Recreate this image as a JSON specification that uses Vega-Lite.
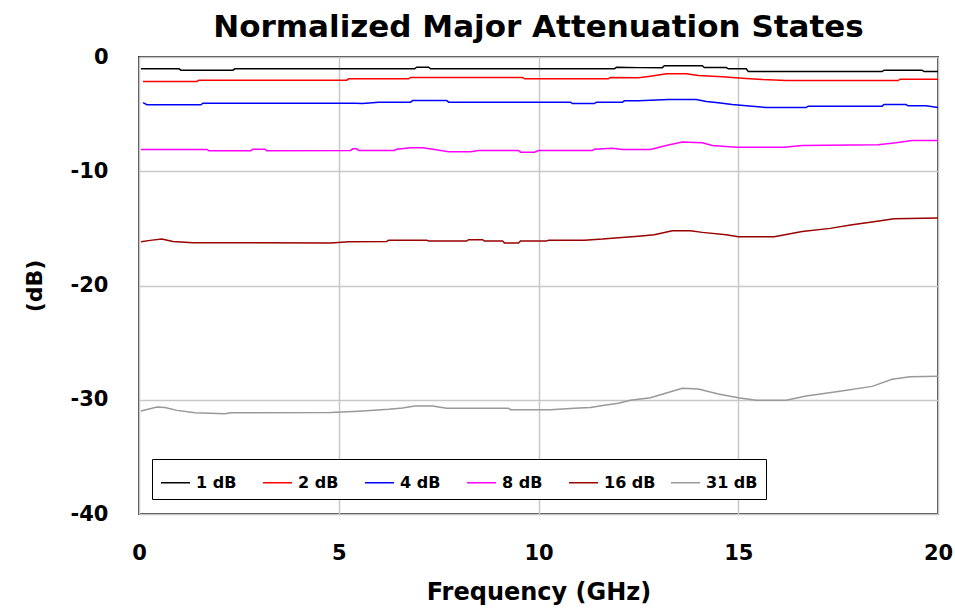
{
  "$schema": "https://vega.github.io/schema/vega-lite/v6.json",
  "width": 799,
  "height": 457,
  "autosize": {"type": "none"},
  "padding": {"left": 139, "top": 57, "right": 17, "bottom": 95},
  "background": "white",
  "title": {"text": "Normalized Major Attenuation States", "font": "DejaVu Sans", "fontSize": 31, "fontWeight": "bold", "color": "#000000", "anchor": "middle", "offset": 2},
  "config": {
    "view": {"stroke": "#404040", "strokeWidth": 2},
    "axis": {"labelFont": "DejaVu Sans", "labelFontWeight": "bold", "labelFontSize": 21, "labelColor": "#000000", "titleFont": "DejaVu Sans", "titleFontWeight": "bold", "titleFontSize": 24, "titleColor": "#000000", "gridColor": "#c8c8c8", "gridWidth": 1.5, "gridOpacity": 1, "domain": false, "ticks": false, "labelFlush": false, "labelExpr": "toString(datum.value)"}
  },
  "data": {"values": [
    {"s":"1 dB","f":0.05,"v":-1.03},{"s":"1 dB","f":1.0,"v":-1.03},{"s":"1 dB","f":1.05,"v":-1.15},{"s":"1 dB","f":2.35,"v":-1.15},{"s":"1 dB","f":2.4,"v":-1.03},{"s":"1 dB","f":6.9,"v":-1.03},{"s":"1 dB","f":6.95,"v":-0.89},{"s":"1 dB","f":7.25,"v":-0.89},{"s":"1 dB","f":7.3,"v":-1.03},{"s":"1 dB","f":11.9,"v":-1.03},{"s":"1 dB","f":11.95,"v":-0.9},{"s":"1 dB","f":12.5,"v":-0.93},{"s":"1 dB","f":13.1,"v":-0.93},{"s":"1 dB","f":13.15,"v":-0.77},{"s":"1 dB","f":14.1,"v":-0.77},{"s":"1 dB","f":14.15,"v":-0.92},{"s":"1 dB","f":14.7,"v":-0.92},{"s":"1 dB","f":14.75,"v":-1.03},{"s":"1 dB","f":15.2,"v":-1.03},{"s":"1 dB","f":15.25,"v":-1.27},{"s":"1 dB","f":18.6,"v":-1.27},{"s":"1 dB","f":18.65,"v":-1.15},{"s":"1 dB","f":19.6,"v":-1.15},{"s":"1 dB","f":19.65,"v":-1.27},{"s":"1 dB","f":20,"v":-1.27},
    {"s":"2 dB","f":0.1,"v":-2.14},{"s":"2 dB","f":1.45,"v":-2.14},{"s":"2 dB","f":1.5,"v":-2.03},{"s":"2 dB","f":5.2,"v":-2.03},{"s":"2 dB","f":5.25,"v":-1.91},{"s":"2 dB","f":6.75,"v":-1.91},{"s":"2 dB","f":6.8,"v":-1.79},{"s":"2 dB","f":9.6,"v":-1.79},{"s":"2 dB","f":9.65,"v":-1.91},{"s":"2 dB","f":11.75,"v":-1.91},{"s":"2 dB","f":11.8,"v":-1.79},{"s":"2 dB","f":12.5,"v":-1.82},{"s":"2 dB","f":12.8,"v":-1.68},{"s":"2 dB","f":13.2,"v":-1.47},{"s":"2 dB","f":13.7,"v":-1.47},{"s":"2 dB","f":14.0,"v":-1.62},{"s":"2 dB","f":14.6,"v":-1.73},{"s":"2 dB","f":15.1,"v":-1.85},{"s":"2 dB","f":15.6,"v":-1.97},{"s":"2 dB","f":16.2,"v":-2.06},{"s":"2 dB","f":19.0,"v":-2.06},{"s":"2 dB","f":19.05,"v":-1.94},{"s":"2 dB","f":20,"v":-1.94},
    {"s":"4 dB","f":0.1,"v":-4.0},{"s":"4 dB","f":0.2,"v":-4.18},{"s":"4 dB","f":1.55,"v":-4.18},{"s":"4 dB","f":1.6,"v":-4.04},{"s":"4 dB","f":5.4,"v":-4.04},{"s":"4 dB","f":5.6,"v":-4.07},{"s":"4 dB","f":6.0,"v":-3.95},{"s":"4 dB","f":6.8,"v":-3.95},{"s":"4 dB","f":6.85,"v":-3.8},{"s":"4 dB","f":7.7,"v":-3.8},{"s":"4 dB","f":7.75,"v":-3.95},{"s":"4 dB","f":10.8,"v":-3.95},{"s":"4 dB","f":10.85,"v":-4.07},{"s":"4 dB","f":11.4,"v":-4.07},{"s":"4 dB","f":11.45,"v":-3.95},{"s":"4 dB","f":12.1,"v":-3.95},{"s":"4 dB","f":12.15,"v":-3.83},{"s":"4 dB","f":12.5,"v":-3.83},{"s":"4 dB","f":13.25,"v":-3.72},{"s":"4 dB","f":13.95,"v":-3.72},{"s":"4 dB","f":14.2,"v":-3.89},{"s":"4 dB","f":14.5,"v":-4.0},{"s":"4 dB","f":14.85,"v":-4.16},{"s":"4 dB","f":15.2,"v":-4.27},{"s":"4 dB","f":15.7,"v":-4.42},{"s":"4 dB","f":16.7,"v":-4.42},{"s":"4 dB","f":16.75,"v":-4.3},{"s":"4 dB","f":18.6,"v":-4.3},{"s":"4 dB","f":18.65,"v":-4.16},{"s":"4 dB","f":19.2,"v":-4.16},{"s":"4 dB","f":19.25,"v":-4.27},{"s":"4 dB","f":19.7,"v":-4.27},{"s":"4 dB","f":20,"v":-4.42},
    {"s":"8 dB","f":0.05,"v":-8.09},{"s":"8 dB","f":1.7,"v":-8.09},{"s":"8 dB","f":1.75,"v":-8.2},{"s":"8 dB","f":2.8,"v":-8.2},{"s":"8 dB","f":2.85,"v":-8.07},{"s":"8 dB","f":3.15,"v":-8.07},{"s":"8 dB","f":3.2,"v":-8.2},{"s":"8 dB","f":5.3,"v":-8.18},{"s":"8 dB","f":5.35,"v":-8.04},{"s":"8 dB","f":5.45,"v":-8.04},{"s":"8 dB","f":5.5,"v":-8.18},{"s":"8 dB","f":6.4,"v":-8.18},{"s":"8 dB","f":6.45,"v":-8.07},{"s":"8 dB","f":6.8,"v":-7.95},{"s":"8 dB","f":7.1,"v":-7.95},{"s":"8 dB","f":7.4,"v":-8.09},{"s":"8 dB","f":7.75,"v":-8.3},{"s":"8 dB","f":8.3,"v":-8.3},{"s":"8 dB","f":8.5,"v":-8.18},{"s":"8 dB","f":9.5,"v":-8.18},{"s":"8 dB","f":9.55,"v":-8.33},{"s":"8 dB","f":9.9,"v":-8.33},{"s":"8 dB","f":10.0,"v":-8.18},{"s":"8 dB","f":11.35,"v":-8.18},{"s":"8 dB","f":11.4,"v":-8.07},{"s":"8 dB","f":11.85,"v":-7.98},{"s":"8 dB","f":12.1,"v":-8.09},{"s":"8 dB","f":12.8,"v":-8.09},{"s":"8 dB","f":13.25,"v":-7.7},{"s":"8 dB","f":13.6,"v":-7.45},{"s":"8 dB","f":14.1,"v":-7.5},{"s":"8 dB","f":14.35,"v":-7.74},{"s":"8 dB","f":14.95,"v":-7.89},{"s":"8 dB","f":16.15,"v":-7.89},{"s":"8 dB","f":16.6,"v":-7.74},{"s":"8 dB","f":18.5,"v":-7.68},{"s":"8 dB","f":18.95,"v":-7.5},{"s":"8 dB","f":19.35,"v":-7.3},{"s":"8 dB","f":20,"v":-7.3},
    {"s":"16 dB","f":0.05,"v":-16.17},{"s":"16 dB","f":0.28,"v":-16.05},{"s":"16 dB","f":0.57,"v":-15.94},{"s":"16 dB","f":0.85,"v":-16.14},{"s":"16 dB","f":1.35,"v":-16.26},{"s":"16 dB","f":4.8,"v":-16.27},{"s":"16 dB","f":5.25,"v":-16.16},{"s":"16 dB","f":6.2,"v":-16.14},{"s":"16 dB","f":6.25,"v":-16.03},{"s":"16 dB","f":7.2,"v":-16.03},{"s":"16 dB","f":7.25,"v":-16.11},{"s":"16 dB","f":8.2,"v":-16.11},{"s":"16 dB","f":8.25,"v":-15.99},{"s":"16 dB","f":8.6,"v":-15.99},{"s":"16 dB","f":8.65,"v":-16.11},{"s":"16 dB","f":9.1,"v":-16.11},{"s":"16 dB","f":9.15,"v":-16.29},{"s":"16 dB","f":9.5,"v":-16.29},{"s":"16 dB","f":9.55,"v":-16.11},{"s":"16 dB","f":10.2,"v":-16.11},{"s":"16 dB","f":10.25,"v":-16.03},{"s":"16 dB","f":11.15,"v":-16.03},{"s":"16 dB","f":11.6,"v":-15.94},{"s":"16 dB","f":12.0,"v":-15.82},{"s":"16 dB","f":12.5,"v":-15.68},{"s":"16 dB","f":12.9,"v":-15.56},{"s":"16 dB","f":13.35,"v":-15.2},{"s":"16 dB","f":13.8,"v":-15.2},{"s":"16 dB","f":14.1,"v":-15.35},{"s":"16 dB","f":14.7,"v":-15.56},{"s":"16 dB","f":15.0,"v":-15.73},{"s":"16 dB","f":15.9,"v":-15.73},{"s":"16 dB","f":16.6,"v":-15.27},{"s":"16 dB","f":17.3,"v":-15.0},{"s":"16 dB","f":17.85,"v":-14.68},{"s":"16 dB","f":18.35,"v":-14.45},{"s":"16 dB","f":18.9,"v":-14.16},{"s":"16 dB","f":20,"v":-14.1},
    {"s":"31 dB","f":0.05,"v":-30.99},{"s":"31 dB","f":0.45,"v":-30.64},{"s":"31 dB","f":0.65,"v":-30.67},{"s":"31 dB","f":0.95,"v":-30.93},{"s":"31 dB","f":1.4,"v":-31.13},{"s":"31 dB","f":2.15,"v":-31.22},{"s":"31 dB","f":2.3,"v":-31.13},{"s":"31 dB","f":4.8,"v":-31.12},{"s":"31 dB","f":5.5,"v":-31.0},{"s":"31 dB","f":6.25,"v":-30.84},{"s":"31 dB","f":6.6,"v":-30.73},{"s":"31 dB","f":6.9,"v":-30.55},{"s":"31 dB","f":7.35,"v":-30.55},{"s":"31 dB","f":7.7,"v":-30.75},{"s":"31 dB","f":9.25,"v":-30.75},{"s":"31 dB","f":9.3,"v":-30.87},{"s":"31 dB","f":10.3,"v":-30.87},{"s":"31 dB","f":10.9,"v":-30.75},{"s":"31 dB","f":11.3,"v":-30.67},{"s":"31 dB","f":11.65,"v":-30.49},{"s":"31 dB","f":12.0,"v":-30.31},{"s":"31 dB","f":12.3,"v":-30.05},{"s":"31 dB","f":12.8,"v":-29.82},{"s":"31 dB","f":13.6,"v":-29.0},{"s":"31 dB","f":14.0,"v":-29.06},{"s":"31 dB","f":14.5,"v":-29.5},{"s":"31 dB","f":15.0,"v":-29.82},{"s":"31 dB","f":15.45,"v":-30.05},{"s":"31 dB","f":16.2,"v":-30.05},{"s":"31 dB","f":16.7,"v":-29.68},{"s":"31 dB","f":17.5,"v":-29.27},{"s":"31 dB","f":18.35,"v":-28.83},{"s":"31 dB","f":18.85,"v":-28.2},{"s":"31 dB","f":19.3,"v":-27.98},{"s":"31 dB","f":20,"v":-27.95}
  ]},
  "mark": {"type": "line", "strokeWidth": 1.5, "clip": true},
  "encoding": {
    "x": {"field": "f", "type": "quantitative", "scale": {"domain": [0, 20], "nice": false, "zero": false}, "axis": {"values": [0, 5, 10, 15, 20], "title": "Frequency (GHz)", "labelPadding": 28, "titlePadding": 17, "labelBaseline": "top"}},
    "y": {"field": "v", "type": "quantitative", "scale": {"domain": [-40, 0], "nice": false}, "axis": {"values": [0, -10, -20, -30, -40], "title": "(dB)", "labelPadding": 31, "titlePadding": 24, "titleFontSize": 22}},
    "color": {"field": "s", "type": "nominal", "sort": null,
      "scale": {"domain": ["1 dB", "2 dB", "4 dB", "8 dB", "16 dB", "31 dB"], "range": ["#000000", "#ff0000", "#0000ff", "#ff00ff", "#990000", "#999999"]},
      "legend": {"title": null, "orient": "none", "legendX": 13, "legendY": 402, "direction": "horizontal", "columns": 6, "gridAlign": "all", "columnPadding": 12, "fillColor": "white", "strokeColor": "#000000", "padding": 8, "symbolType": "stroke", "symbolSize": 841, "symbolStrokeWidth": 1.5, "labelOffset": 5, "labelFont": "DejaVu Sans", "labelFontWeight": "bold", "labelFontSize": 16, "labelColor": "#000000"}
    }
  }
}
